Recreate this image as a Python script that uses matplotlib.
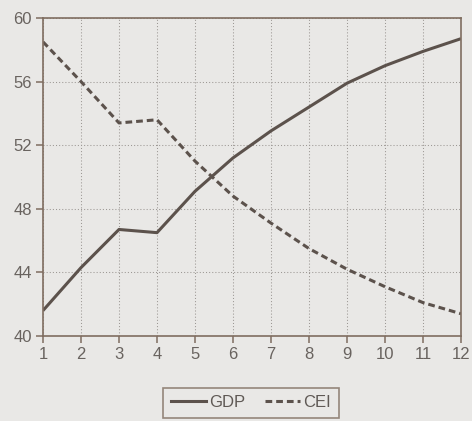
import numpy as np
import matplotlib.pyplot as plt
from matplotlib.lines import Line2D

periods = list(range(1, 13))
gdp = [41.6, 44.3, 46.7, 46.5, 49.1, 51.2, 52.9, 54.4, 55.9, 57.0, 57.9, 58.7]
cei = [58.5, 56.0, 53.4, 53.6, 51.0, 48.8, 47.1, 45.5, 44.2, 43.1, 42.1, 41.4]

BG = "#e9e8e6"
INK = "#5c524c"
SPINE = "#7f6d60"

plt.rcParams["font.family"] = ["Liberation Sans", "DejaVu Sans"]

fig = plt.figure(figsize=(4.72, 4.21), dpi=100, facecolor=BG)
ax = fig.add_axes([43 / 472, 1 - 336 / 421, 418 / 472, 318 / 421])
ax.set_facecolor(BG)

ax.plot(periods, gdp, color=INK, lw=2.2, solid_capstyle="butt")
ax.plot(periods, cei, color=INK, lw=2.2, ls=(0, (2.2, 1.3)))

ax.set_xlim(1, 12)
ax.set_ylim(40, 60)
ax.set_xticks(periods)
ax.set_yticks([40, 44, 48, 52, 56, 60])
ax.grid(True, color="#9c9894", lw=0.75, ls=(0, (1, 2)))
for s in ax.spines.values():
    s.set_color(SPINE)
    s.set_linewidth(1.2)
ax.tick_params(colors=SPINE, labelcolor="#69635f", labelsize=12,
               length=5, width=1.1, pad=3)

handles = [Line2D([], [], color=INK, lw=2.2),
           Line2D([], [], color=INK, lw=2.2, ls=(0, (2.2, 1.3)))]
leg = fig.legend(handles, ["GDP", "CEI"], loc="lower center",
                 bbox_to_anchor=(251 / 472, -0.012), ncol=2, frameon=True,
                 fancybox=False, fontsize=12, handlelength=2.1,
                 handletextpad=0.2, columnspacing=1.2, borderpad=0.45)
leg.get_frame().set_edgecolor(SPINE)
leg.get_frame().set_facecolor(BG)
leg.get_frame().set_linewidth(1.2)
for t in leg.get_texts():
    t.set_color("#5f5955")

fig.savefig("out.png", dpi=100, facecolor=BG)
